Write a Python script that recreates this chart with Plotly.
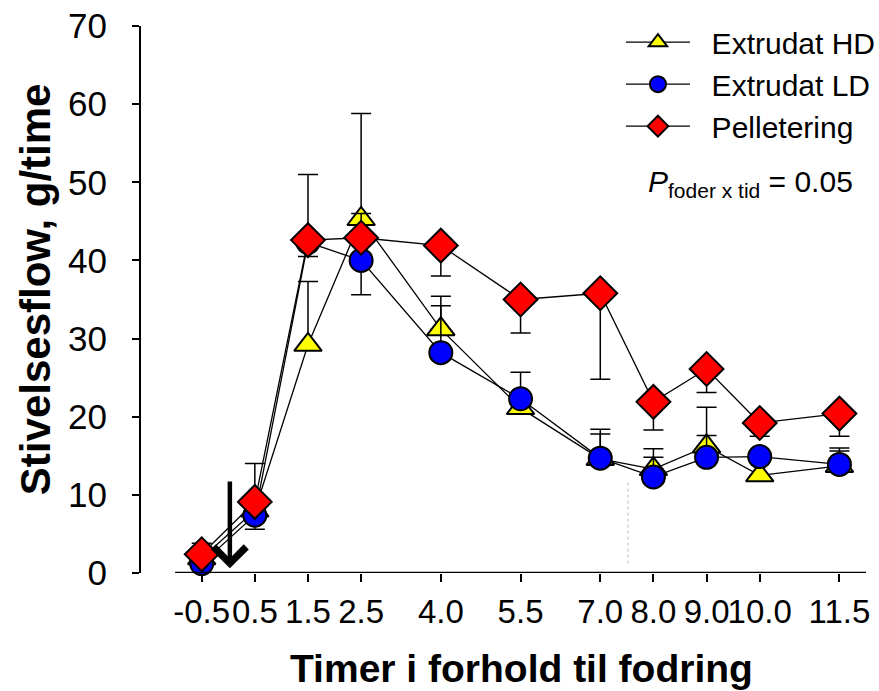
import plotly.graph_objects as go

# ---- data ----
tider = [-0.5, 0.5, 1.5, 2.5, 4.0, 5.5, 7.0, 8.0, 9.0, 10.0, 11.5]
tick_labels = ["-0.5", "0.5", "1.5", "2.5", "4.0", "5.5", "7.0", "8.0", "9.0", "10.0", "11.5"]

hd = [1.9, 8.0, 29.2, 45.3, 31.2, 21.1, 14.6, 13.3, 16.2, 12.5, 13.7]
hd_plus = [0, 0, 8.1, 13.5, 4.2, 0, 3.2, 2.6, 5.0, 2.6, 1.9]
hd_minus = [0] * 11

ld = [1.2, 7.4, 42.3, 40.0, 28.2, 22.3, 14.7, 12.3, 14.8, 14.9, 13.9]
ld_plus = [0, 0, 0, 0, 6.0, 3.4, 3.7, 2.5, 2.8, 0, 2.1]
ld_minus = [0, 1.8, 1.8, 4.4, 0, 0, 0, 0, 0, 0, 0]

pel = [2.4, 9.1, 42.6, 42.9, 41.9, 35.0, 35.8, 21.9, 26.1, 19.2, 20.4]
pel_plus = [1.4, 4.9, 8.4, 3.1, 0, 0, 0, 0, 0, 0, 0]
pel_minus = [0, 0, 0, 0, 3.9, 4.3, 11.0, 3.6, 3.0, 1.7, 2.9]

FONT = "Liberation Sans, Arial, sans-serif"
NB = "\u00a0\u00a0"

fig = go.Figure()

def add(name, y, plus, minus, symbol, color, size):
    fig.add_trace(go.Scatter(
        x=tider, y=y, name=NB + name, mode="lines+markers",
        line=dict(color="black", width=1.3),
        marker=dict(symbol=symbol, color=color, size=size,
                    line=dict(color="black", width=2)),
        error_y=dict(type="data", symmetric=False, array=plus, arrayminus=minus,
                     color="black", thickness=1.5, width=10),
        cliponaxis=False,
    ))

add("Extrudat HD", hd, hd_plus, hd_minus, "triangle-up", "#ffff00", 24)
add("Extrudat LD", ld, ld_plus, ld_minus, "circle", "#0000ff", 23)
add("Pelletering", pel, pel_plus, pel_minus, "diamond", "#ff0000", 26)

fig.update_layout(
    width=879, height=691,
    margin=dict(l=141, r=13, t=26, b=118, autoexpand=False),
    plot_bgcolor="white", paper_bgcolor="white",
    font=dict(family=FONT, size=30, color="black"),
    showlegend=True,
    legend=dict(x=0.662, y=1.018, xanchor="left", yanchor="top",
                bgcolor="rgba(0,0,0,0)", font=dict(size=30),
                tracegroupgap=0, itemwidth=64),
    xaxis=dict(range=[-1.642, 12.0], tickmode="array", tickvals=tider,
               ticktext=tick_labels, ticks="outside", ticklen=8, tickwidth=2,
               tickcolor="black", showline=False, showgrid=False, zeroline=False,
               tickfont=dict(size=33), ticklabelstandoff=1, tickangle=0,
               automargin=False),
    yaxis=dict(range=[0, 70], tickvals=[0, 10, 20, 30, 40, 50, 60, 70],
               ticks="outside", ticklen=7, tickwidth=2, tickcolor="black",
               showline=True, linecolor="black", linewidth=2,
               showgrid=False, zeroline=False, tickfont=dict(size=35),
               ticklabelstandoff=18, automargin=False),
)

# detached x-axis line
fig.add_shape(type="line", xref="x", yref="y", x0=-1.0, x1=12.0, y0=0, y1=0,
              line=dict(color="black", width=2.5), layer="above")
# faint dotted artefact
fig.add_shape(type="line", xref="x", yref="y", x0=7.52, x1=7.52, y0=1.2, y1=11.8,
              line=dict(color="#bbbbbb", width=1, dash="dot"), layer="above")

# feeding arrow
fig.add_annotation(x=0.03, y=0.6, ax=0.03, ay=11.9, xref="x", yref="y",
                   axref="x", ayref="y", text="", showarrow=True,
                   arrowhead=4, arrowsize=1.4, arrowwidth=4.5, arrowcolor="black")

# P-value text
fig.add_annotation(xref="paper", yref="paper", x=(750 - 141) / 725, y=(572.7 - 183) / 546.7,
                   text="<i>P</i><sub>foder x tid</sub> = 0.05", showarrow=False,
                   font=dict(size=30, family=FONT), xanchor="center", yanchor="middle")

# axis titles
fig.add_annotation(xref="paper", yref="paper", x=(521 - 141) / 725, y=(572.7 - 668) / 546.7,
                   text="<b>Timer i forhold til fodring</b>", showarrow=False,
                   font=dict(size=39, family=FONT), xanchor="center", yanchor="middle")
fig.add_annotation(xref="paper", yref="paper", x=(35 - 141) / 725, y=(572.7 - 289) / 546.7,
                   text="<b>Stivelsesflow, g/time</b>", showarrow=False, textangle=-90,
                   font=dict(size=42, family=FONT), xanchor="center", yanchor="middle")

fig.write_html("out.html")
